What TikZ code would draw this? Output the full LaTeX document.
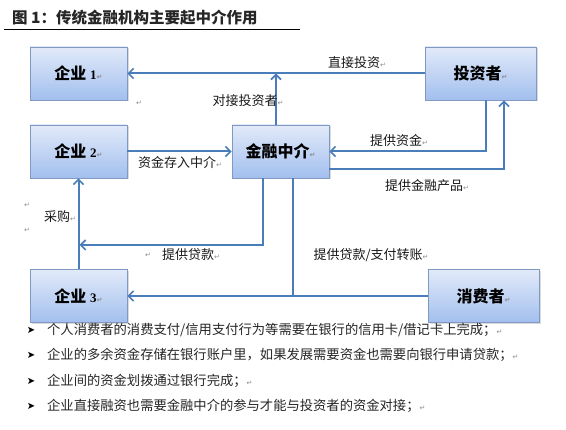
\documentclass[tikz,border=0pt]{standalone}
\usepackage{fontspec}
\setmainfont{Liberation Serif}
\newfontfamily\cjk{Noto Sans CJK SC}
\newfontfamily\sym{DejaVu Sans}
\usetikzlibrary{arrows.meta,shadows,calc}
\definecolor{boxtop}{HTML}{E2EAF9}
\definecolor{boxbot}{HTML}{A2BFEE}
\definecolor{boxline}{HTML}{8099C2}
\definecolor{arrowc}{HTML}{4A7EBB}
\newcommand{\rt}{{\sym\fontsize{7}{7}\selectfont\color{black!45}↵}}
\newcommand{\dg}[1]{{\rmfamily\bfseries\fontsize{13}{13}\selectfont #1}}
\tikzset{
  box/.style={rectangle, minimum width=97pt, minimum height=53pt, draw=boxline, line width=0.8pt,
    top color=boxtop, bottom color=boxbot,
    drop shadow={opacity=0.28, shadow xshift=1.5pt, shadow yshift=-1.5pt},
    font=\cjk\bfseries\fontsize{16}{16}\selectfont, text=black},
  wbox/.style={box, minimum width=111pt},
  arr/.style={draw=arrowc, line width=2pt, -{Straight Barb[length=5pt,width=10pt,line width=1.6pt]}},
  plain/.style={draw=arrowc, line width=2pt},
  lab/.style={font=\cjk\fontsize{13}{13}\selectfont, text=black!90, inner sep=0pt},
  bul/.style={font=\cjk\fontsize{13.3}{14}\selectfont, text=black!85, anchor=west, inner sep=0pt},
  mk/.style={font=\sym\fontsize{10}{10}\selectfont, text=black, inner sep=0pt},
  ret/.style={inner sep=0pt}
}
\begin{document}
\begin{tikzpicture}[x=1pt,y=-1pt]
\fill[white] (0,0) rectangle (566,430);
\useasboundingbox (0,0) rectangle (566,430);
% title
\node[anchor=west, inner sep=0pt, font=\cjk\bfseries\fontsize{15.5}{15.5}\selectfont, text=black!85] (title) at (12,18) {图 1：传统金融机构主要起中介作用};
\draw[black, line width=0.9pt] (4,29.5) -- (300,29.5);
% boxes
\node[box] (e1) at (78.5,73.5) {企业 \dg{1}\rt};
\node[box] (e2) at (78.5,151.5) {企业 \dg{2}\rt};
\node[box] (e3) at (78.5,296) {企业 \dg{3}\rt};
\node[box] (jr) at (280.5,151.5) {金融中介\rt};
\node[wbox] (tz) at (480.5,73.5) {投资者\rt};
\node[wbox] (xf) at (483.5,296) {消费者\rt};
% helper coordinates
\coordinate (c1) at (276,73.5);
\coordinate (c2) at (486,0);
\coordinate (c3) at (504,169);
\coordinate (c4) at (263,245);
\coordinate (c5) at (293,296);
% connectors
\draw[arr] (tz.west) -- (e1.east);
\draw[arr] (jr.north -| c1) -- (c1);
\draw[arr] (e2.east) -- (jr.west);
\draw[arr] (tz.south -| c2) |- (jr.east);
\draw[arr] (jr.east |- c3) -| (tz.south -| c3);
\draw[arr] (jr.south -| c4) |- ($(e3.north |- c4)+(1,0)$);
\draw[arr] (e3.north) -- (e2.south);
\draw[arr] (xf.west) -- (e3.east);
\draw[plain] (jr.south -| c5) -- (c5);
% labels
\node[lab] (l1) at (357,63) {直接投资\rt};
\node[lab] (l2) at (248,100.5) {对接投资者\rt};
\node[lab] (l3) at (180,163) {资金存入中介\rt};
\node[lab] (l4) at (399,141) {提供资金\rt};
\node[lab] (l5) at (427,185.5) {提供金融产品\rt};
\node[lab] (l6) at (60,217) {采购\rt};
\node[lab] (l7) at (191,255) {提供贷款\rt};
\node[lab] (l8) at (371,255) {提供贷款/支付转账\rt};
% stray paragraph marks
\node[ret] (r1) at (139,103) {\rt};
\node[ret] (r2) at (27,205) {\rt};
\node[ret] (r3) at (27,230) {\rt};
\node[ret] (r4) at (148,255) {\rt};
% bullets
\node[mk] (m1) at (31,330) {➤};
\node[mk] (m2) at (31,355) {➤};
\node[mk] (m3) at (31,381) {➤};
\node[mk] (m4) at (31,406) {➤};
\node[bul] (b1) at (47,330) {个人消费者的消费支付/信用支付行为等需要在银行的信用卡/借记卡上完成；\rt};
\node[bul] (b2) at (47,355) {企业的多余资金存储在银行账户里，如果发展需要资金也需要向银行申请贷款；\rt};
\node[bul] (b3) at (47,381) {企业间的资金划拨通过银行完成；\rt};
\node[bul] (b4) at (47,406) {企业直接融资也需要金融中介的参与才能与投资者的资金对接；\rt};
\end{tikzpicture}
\end{document}
